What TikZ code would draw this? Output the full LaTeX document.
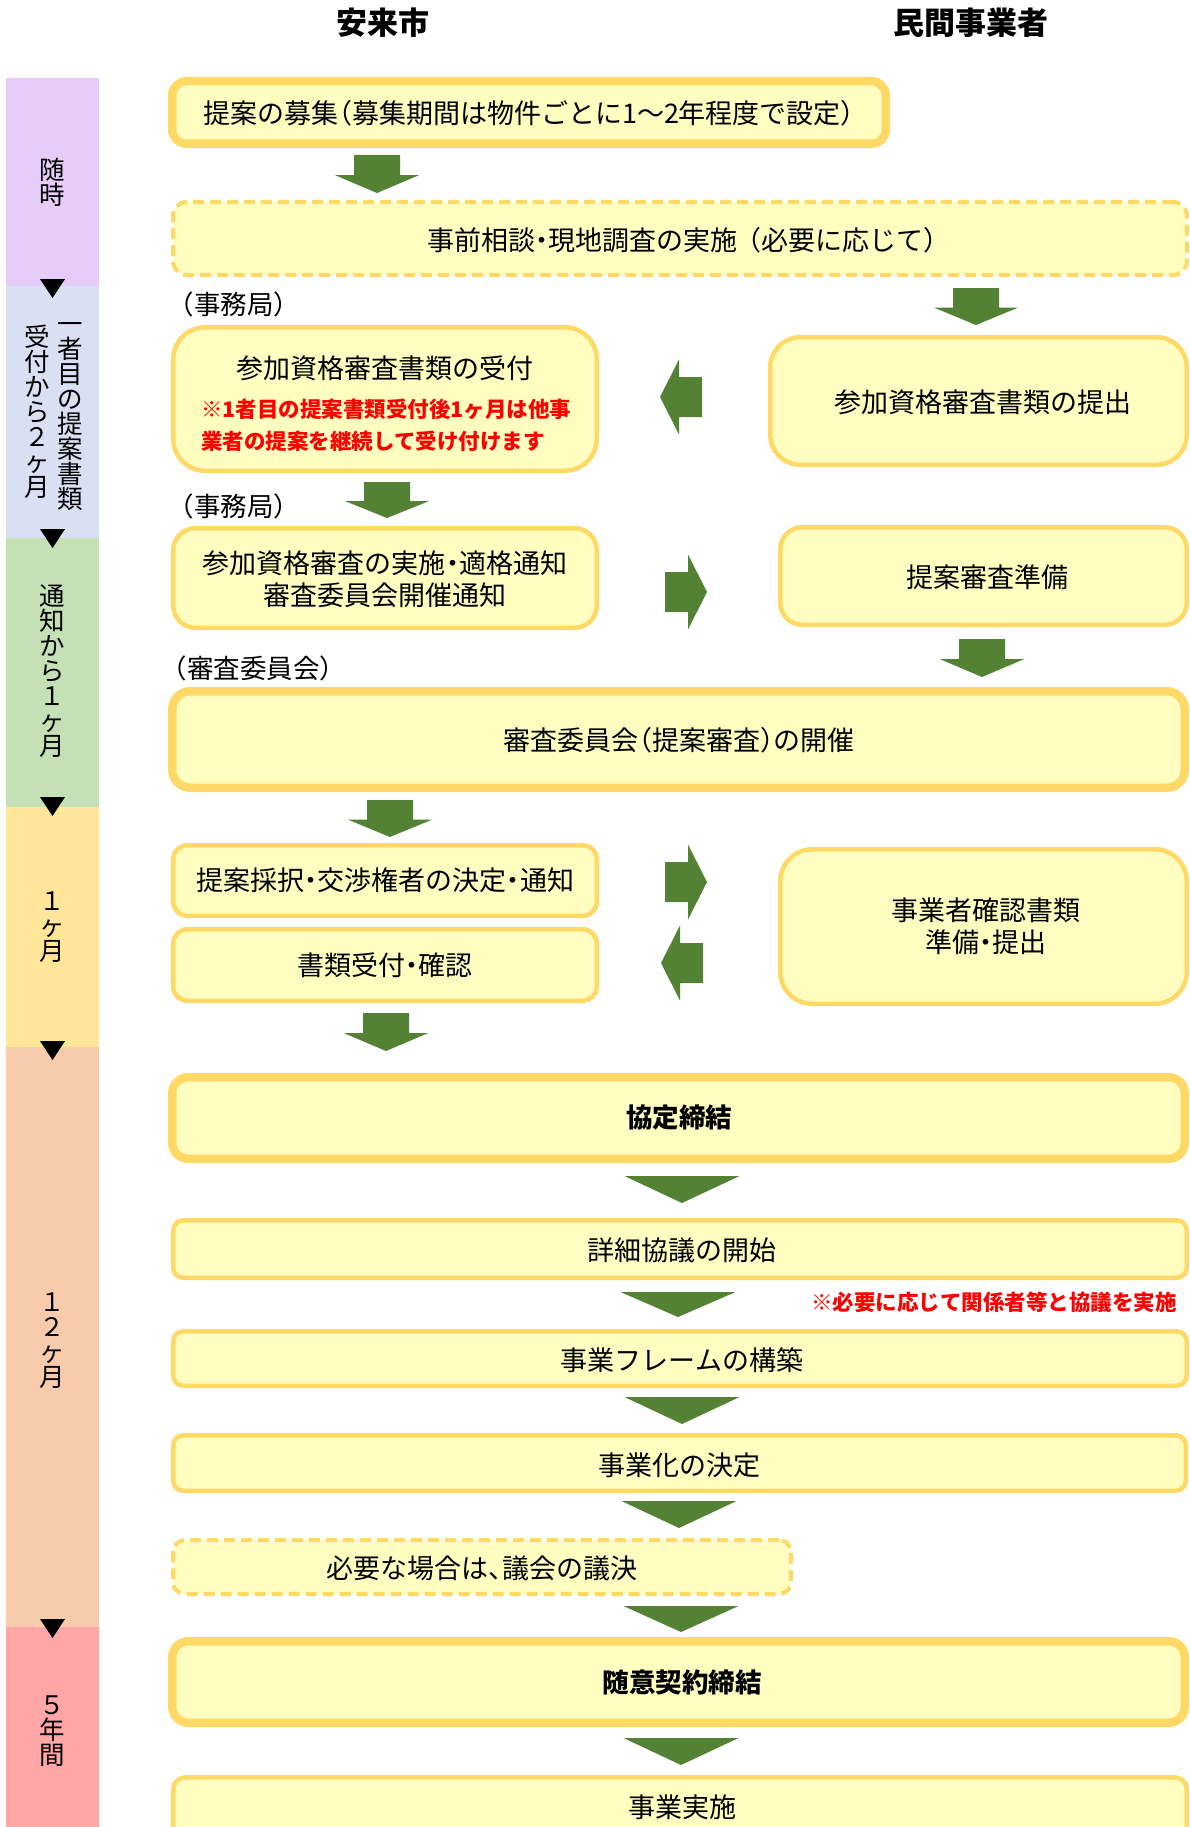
\documentclass[tikz,border=0pt]{standalone}
\usepackage{fontspec}
\setmainfont{Noto Sans CJK JP}[RawFeature=+halt]
\usetikzlibrary{fit}
\definecolor{boxfill}{HTML}{FFFEC0}
\definecolor{boxborder}{HTML}{FFD966}
\definecolor{arrowgreen}{HTML}{548235}
\definecolor{notered}{HTML}{FF0000}
\definecolor{bandA}{HTML}{E6CCF8}
\definecolor{bandB}{HTML}{DAE0F3}
\definecolor{bandC}{HTML}{C5E0B4}
\definecolor{bandD}{HTML}{FFE699}
\definecolor{bandE}{HTML}{F8CBAD}
\definecolor{bandF}{HTML}{FFA7A7}
\newcommand\flowbx[8]{\node[#6, rounded corners=#7, fit={({#2+#8},{#3+#8})({#4-#8},{#5-#8})}] (#1) {};}
\newcommand\DArrow[3]{\fill[arrowgreen] ({#1-23},#2) -- ({#1+23},#2) -- ({#1+23},{#2+0.53*(#3-#2)}) -- ({#1+42},{#2+0.53*(#3-#2)}) -- (#1,#3) -- ({#1-42},{#2+0.53*(#3-#2)}) -- ({#1-23},{#2+0.53*(#3-#2)}) -- cycle;}
\newcommand\LArrow[2]{\fill[arrowgreen] (#1,#2) -- ({#1+19},{#2-37.5}) -- ({#1+19},{#2-20}) -- ({#1+42},{#2-20}) -- ({#1+42},{#2+20}) -- ({#1+19},{#2+20}) -- ({#1+19},{#2+37.5}) -- cycle;}
\newcommand\RArrow[2]{\fill[arrowgreen] (#1,#2) -- ({#1-19},{#2-37.5}) -- ({#1-19},{#2-20}) -- ({#1-42},{#2-20}) -- ({#1-42},{#2+20}) -- ({#1-19},{#2+20}) -- ({#1-19},{#2+37.5}) -- cycle;}
\newcommand\WTri[3]{\fill[arrowgreen] ({#1-57.5},#2) -- ({#1+57.5},#2) -- (#1,#3) -- cycle;}
\newcommand\BTri[1]{\fill[black] (40,#1) -- (65,#1) -- (52.5,{#1+19}) -- cycle;}
\begin{document}
\begin{tikzpicture}[x=1pt,y=-1pt,
  flowbox/.style={draw=boxborder, fill=boxfill, inner sep=0pt, line width=4.5pt},
  thickbox/.style={flowbox, line width=8.5pt},
  dashbox/.style={flowbox, line width=4pt, dash pattern=on 11pt off 6pt},
  txt/.style={font=\fontsize{27}{32}\selectfont, align=center, inner sep=0pt},
  boldtxt/.style={txt, font=\fontsize{26.5}{32}\selectfont\bfseries},
  head/.style={font=\fontsize{31}{36}\selectfont\bfseries, inner sep=0pt},
  lbl/.style={font=\fontsize{26.5}{30}\selectfont, inner sep=0pt, anchor=west},
  note/.style={font=\fontsize{21.5}{32}\selectfont\bfseries, text=notered, inner sep=0pt, anchor=west},
  band/.style={font=\fontsize{25.5}{25}\selectfont, align=center, inner sep=0pt},
]
\useasboundingbox (0,0) rectangle (1190,1827);
\fill[white] (0,0) rectangle (1190,1827);
\clip (0,0) rectangle (1190,1827);

% timeline bands
\fill[bandA] (6,78) rectangle (99,286);
\fill[bandB] (6,286) rectangle (99,538);
\fill[bandC] (6,538) rectangle (99,807);
\fill[bandD] (6,807) rectangle (99,1047);
\fill[bandE] (6,1047) rectangle (99,1627);
\fill[bandF] (6,1627) rectangle (99,1827);
\BTri{279}
\BTri{529}
\BTri{797}
\BTri{1041}
\BTri{1619}
\node[band] (tA) at (52.5,182) {随\\時};
\node[band] (tB1) at (70,412) {\vphantom{国}一\\者\\目\\の\\提\\案\\書\\類};
\node[band] (tB2) at (37,412) {受\\付\\か\\ら\\２\\ヶ\\月};
\node[band] (tC) at (52.5,671) {通\\知\\か\\ら\\１\\ヶ\\月};
\node[band] (tD) at (52.5,927) {１\\ヶ\\月};
\node[band] (tE) at (52.5,1341) {１\\２\\ヶ\\月};
\node[band] (tF) at (52.5,1731) {５\\年\\間};

% headers
\node[head] (h1) at (383,23) {安来市};
\node[head] (h2) at (971,23) {民間事業者};

% boxes
\flowbx{b1}{168}{77}{890}{148}{thickbox}{14pt}{4.25}
\flowbx{b2}{171}{200}{1189}{277}{dashbox}{14pt}{2}
\flowbx{b3}{171}{325}{599}{473}{flowbox}{32pt}{2.25}
\flowbx{b4}{171}{526}{599}{630}{flowbox}{22pt}{2.25}
\flowbx{r1}{768}{335}{1189}{467}{flowbox}{30pt}{2.25}
\flowbx{r2}{778}{525}{1189}{627}{flowbox}{22pt}{2.25}
\flowbx{b5}{168}{687}{1189}{792}{thickbox}{18pt}{4.25}
\flowbx{b6}{171}{843}{599}{918}{flowbox}{14pt}{2.25}
\flowbx{b7}{171}{927}{599}{1003}{flowbox}{14pt}{2.25}
\flowbx{r3}{778}{847}{1189}{1006}{flowbox}{32pt}{2.25}
\flowbx{b8}{168}{1073}{1189}{1163}{thickbox}{16pt}{4.25}
\flowbx{b9}{171}{1218}{1189}{1280}{flowbox}{10pt}{2.25}
\flowbx{b10}{171}{1329}{1189}{1388}{flowbox}{10pt}{2.25}
\flowbx{b11}{171}{1433}{1188}{1493}{flowbox}{10pt}{2.25}
\flowbx{b12}{171}{1538}{793}{1596}{dashbox}{12pt}{2}
\flowbx{b13}{168}{1637}{1189}{1727}{thickbox}{16pt}{4.25}
\flowbx{b14}{171}{1775}{1189}{1860}{flowbox}{12pt}{2.25}

% texts
\node[txt] (t1) at (529,113) {提案の募集（募集期間は物件ごとに1～2年程度で設定）};
\node[txt] (t2) at (682,240) {事前相談・現地調査の実施\hspace{10pt}（必要に応じて）};
\node[lbl] (l1) at (181,304) {（事務局）};
\node[txt] (t3) at (385,368) {参加資格審査書類の受付};
\node[note] (n1) at (201,409) {※1者目の提案書類受付後1ヶ月は他事};
\node[note] (n2) at (201,441) {業者の提案を継続して受け付けます};
\node[lbl] (l2) at (181,506) {（事務局）};
\node[txt] (t4) at (385,579) {参加資格審査の実施・適格通知\\審査委員会開催通知};
\node[txt] (tr1) at (983,402) {参加資格審査書類の提出};
\node[txt] (tr2) at (987,577) {提案審査準備};
\node[lbl] (l3) at (174,668) {（審査委員会）};
\node[txt] (t5) at (679,740) {審査委員会（提案審査）の開催};
\node[txt] (t6) at (385,880) {提案採択・交渉権者の決定・通知};
\node[txt] (t7) at (385,965) {書類受付・確認};
\node[txt] (tr3) at (986,926) {事業者確認書類\\準備・提出};
\node[boldtxt] (t8) at (679,1118) {協定締結};
\node[txt] (t9) at (682,1250) {詳細協議の開始};
\node[note, anchor=center] (n3) at (994,1302) {※必要に応じて関係者等と協議を実施};
\node[txt] (t10) at (682,1360) {事業フレームの構築};
\node[txt] (t11) at (679,1465) {事業化の決定};
\node[txt] (t12) at (482,1568) {必要な場合は、議会の議決};
\node[boldtxt] (t13) at (682,1682) {随意契約締結};
\node[txt] (t14) at (682,1807) {事業実施};

% block arrows
\DArrow{377}{155}{193}
\DArrow{976}{288}{325}
\DArrow{387}{482}{518}
\DArrow{982}{639}{677}
\DArrow{390}{800}{837}
\DArrow{386}{1013}{1051}
\LArrow{660}{397}
\RArrow{707}{592}
\RArrow{707}{882}
\LArrow{661}{963}
\WTri{682}{1176}{1203}
\WTri{678}{1292}{1317}
\WTri{682}{1397}{1424}
\WTri{679}{1501}{1528}
\WTri{681}{1606}{1632}
\WTri{681}{1738}{1765}
\end{tikzpicture}
\end{document}
